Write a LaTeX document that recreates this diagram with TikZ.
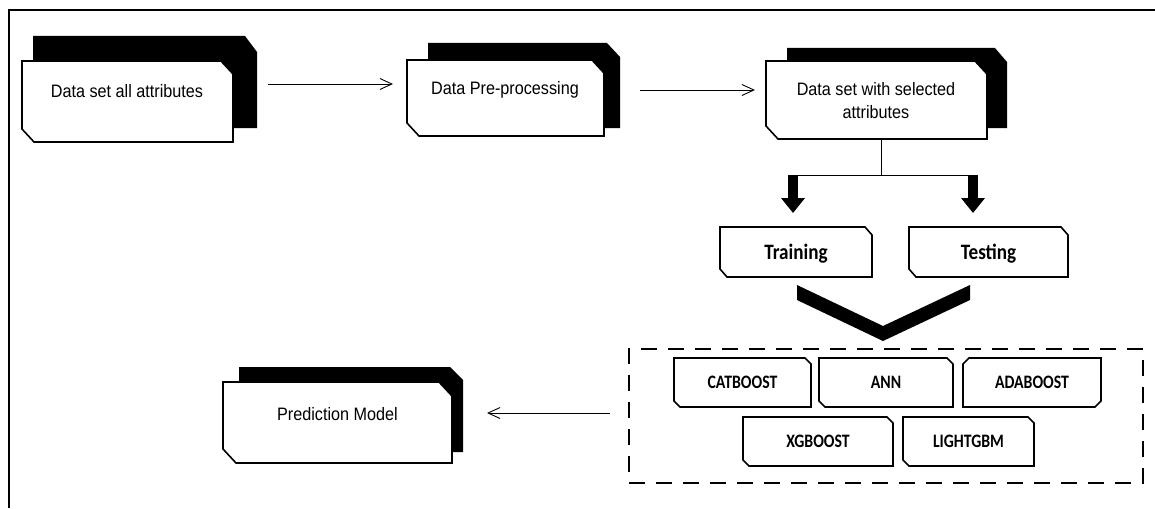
\documentclass[tikz,border=0pt]{standalone}
\usepackage{fontspec}
\setmainfont{Liberation Sans}
\newfontfamily\arialx[FakeStretch=0.9]{Liberation Sans}
\newfontfamily\calx[FakeStretch=0.87]{Carlito}
\newfontfamily\calm[FakeStretch=0.83]{Carlito}
\usetikzlibrary{arrows.meta}
\newcommand{\chamNE}[3]{%
  \draw[boxline] (#1.north west) -- ([xshift=-#2]#1.north east) -- ([yshift=-#3]#1.north east)
    -- (#1.south east) -- ([xshift=#2]#1.south west) -- ([yshift=#3]#1.south west) -- cycle;}
\newcommand{\chamNW}[3]{%
  \draw[boxline] ([yshift=-#3]#1.north west) -- ([xshift=#2]#1.north west) -- (#1.north east)
    -- ([yshift=#3]#1.south east) -- ([xshift=-#2]#1.south east) -- (#1.south west) -- cycle;}
\tikzset{
  area/.style={rectangle, draw=none, inner sep=0pt, outer sep=0pt},
  boxline/.style={draw=black, line width=1.6pt, fill=white, line join=miter},
  smallline/.style={draw=black, line width=1.5pt, fill=white},
  shadowfill/.style={fill=black},
  lbl/.style={inner sep=0pt, font=\arialx\fontsize{18}{23}\selectfont},
  splitbox/.style={area, font=\calx\bfseries\fontsize{22}{26}\selectfont, text height=14.2pt, text depth=0pt},
  modelbox/.style={area, font=\calm\bfseries\fontsize{19}{22}\selectfont, text height=12.2pt, text depth=0pt, minimum height=49pt},
  arr/.style={line width=0.9pt, -{Straight Barb[length=12pt,width=11pt,line width=0.9pt]}},
  thinline/.style={line width=0.9pt},
  fatarrow/.style={line width=10pt, -{Triangle[length=15pt,width=23pt]}},
}
\begin{document}
\begin{tikzpicture}[x=1pt,y=-1pt]
\useasboundingbox (0,0) rectangle (1155,508);
% frame
\draw[line width=2.2pt] (9,508) -- (9,10) -- (1155,10);

% shadows
\fill[shadowfill] (33,36) -- (245,36) -- (257,52) -- (257,128) -- (33,128) -- cycle;
\fill[shadowfill] (428,43) -- (607,43) -- (620,57) -- (620,128) -- (428,128) -- cycle;
\fill[shadowfill] (787,48) -- (995,48) -- (1007,62) -- (1007,128) -- (787,128) -- cycle;
\fill[shadowfill] (239,367) -- (450,367) -- (463,380) -- (463,452) -- (239,452) -- cycle;

% main boxes
\node[area, minimum width=211pt, minimum height=81pt] (b1) at (127.5,101.5) {};
\chamNE{b1}{12pt}{13pt}
\node[lbl, anchor=base] (b1t) at (127,98) {Data set all attributes};

\node[area, minimum width=197pt, minimum height=76pt] (b2) at (505.5,98) {};
\chamNE{b2}{12pt}{13pt}
\node[lbl, anchor=base] (b2t) at (505,95) {Data Pre-processing};

\node[area, minimum width=221pt, minimum height=78pt] (b3) at (876.5,100) {};
\chamNE{b3}{12pt}{13pt}
\node[lbl, align=center] (b3t) at (876,100.5) {Data set with selected\\attributes};

\node[area, minimum width=229pt, minimum height=81pt] (pred) at (337.5,422.5) {};
\chamNE{pred}{13pt}{14pt}
\node[lbl, anchor=base] (predt) at (337.5,420) {Prediction Model};

% arrows between main boxes
\draw[arr] ([shift={(35,-17.5)}]b1.east) -- ([shift={(-14,-14)}]b2.west);
\draw[arr] ([shift={(36,-8)}]b2.east) -- ([shift={(-11,-10)}]b3.west);

% training / testing
\node[splitbox, minimum width=152pt, minimum height=50pt] (train) at (796,252) {Training};
\chamNE{train}{7pt}{8pt}
\node[splitbox, minimum width=159pt, minimum height=50pt] (test) at (988.5,252) {Testing};
\chamNE{test}{7pt}{8pt}
% redraw texts above outlines
\node[splitbox] at (796,252) {Training};
\node[splitbox] at (988.5,252) {Testing};

\coordinate (jn) at (881,175);
\coordinate (sl) at (793,175);
\coordinate (sr) at (973,175);
\draw[thinline] ([xshift=4.5pt]b3.south) -- (jn);
\draw[thinline] (sl) -- (sr);
\draw[fatarrow] ([yshift=0.5pt]sl) -- ([shift={(-3,-14)}]train.north);
\draw[fatarrow] ([yshift=0.5pt]sr) -- ([shift={(-15.5,-14)}]test.north);

% V shape
\fill (797,285) -- (883,326) -- (970,285) -- (970,300) -- (883,341) -- (797,300) -- cycle;

% dashed container
\node[area, draw=black, line width=2.4pt, dash pattern=on 16pt off 11pt, minimum width=514pt, minimum height=134pt] (mbox) at (886,416) {};

% model boxes
\node[modelbox, minimum width=137pt] (cat) at (742.5,382.5) {};
\chamNE{cat}{6pt}{6pt}
\node[modelbox] at (cat) {CATBOOST};
\node[modelbox, minimum width=134pt] (ann) at (886,382.5) {};
\chamNE{ann}{6pt}{6pt}
\node[modelbox] at (ann) {ANN};
\node[modelbox, minimum width=138pt] (ada) at (1032,382.5) {};
\chamNW{ada}{6pt}{6pt}
\node[modelbox] at (ada) {ADABOOST};
\node[modelbox, minimum width=150pt] (xgb) at (818,441.5) {};
\chamNE{xgb}{6pt}{6pt}
\node[modelbox] at (xgb) {XGBOOST};
\node[modelbox, minimum width=131pt] (lgb) at (968.5,441.5) {};
\chamNE{lgb}{6pt}{6pt}
\node[modelbox] at (lgb) {LIGHTGBM};

% arrow to prediction model
\draw[arr] ([shift={(-19,-3)}]mbox.west) -- ([shift={(35,-9.5)}]pred.east);
\end{tikzpicture}
\end{document}
